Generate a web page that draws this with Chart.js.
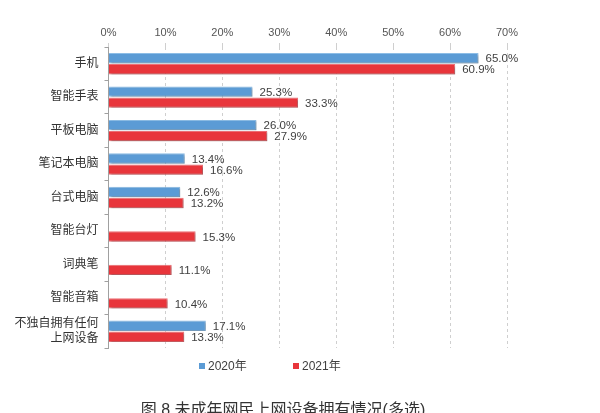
<!DOCTYPE html>
<html><head><meta charset="utf-8">
<script src="https://cdn.jsdelivr.net/npm/chart.js@4"></script>
<style>
html,body{margin:0;padding:0;background:#fff;overflow:hidden;width:600px;height:413px;}
#wrap{position:relative;width:600px;height:425px;}
</style></head>
<body><div id="wrap"><canvas id="c"></canvas></div>
<script>
const categories = ["手机","智能手表","平板电脑","笔记本电脑","台式电脑","智能台灯","词典笔","智能音箱",["不独自拥有任何","上网设备"]];
const values2020 = [65.0, 25.3, 26.0, 13.4, 12.6, null, null, null, 17.1];
const values2021 = [60.9, 33.3, 27.9, 16.6, 13.2, 15.3, 11.1, 10.4, 13.3];
const seriesNames = ["2020年","2021年"];
const xTicks = [0,10,20,30,40,50,60,70];
const chartTitle = '图 8 未成年网民上网设备拥有情况(多选)';
const FONT = '"Liberation Sans","Noto Sans CJK SC",Arial,sans-serif';

const shadowPlugin = {
  id:'shadow',
  beforeDatasetsDraw(chart){const c=chart.ctx;c.save();c.shadowColor='rgba(0,0,0,0.28)';c.shadowOffsetX=1.5;c.shadowOffsetY=1.5;c.shadowBlur=2;},
  afterDatasetsDraw(chart){chart.ctx.restore();}
};
const labelPlugin = {
  id:'vlabels',
  afterDatasetsDraw(chart){
    const c=chart.ctx;c.save();
    c.font='11.5px '+FONT;c.fillStyle='#404040';c.textBaseline='middle';c.textAlign='left';
    chart.data.datasets.forEach((ds,i)=>{
      const meta=chart.getDatasetMeta(i);
      meta.data.forEach((el,j)=>{
        const v=ds.data[j]; if(v==null) return;
        c.fillText(v.toFixed(1)+'%', el.x+7, el.y+1);
      });
    });
    c.restore();
  }
};
const legendTitlePlugin = {
  id:'legendTitle',
  afterDraw(chart){
    const c=chart.ctx;c.save();
    const xs=[199,293];
    chart.data.datasets.forEach((ds,i)=>{
      c.fillStyle=ds.backgroundColor;
      c.fillRect(xs[i],363,6,6);
      c.fillStyle='#404040';c.font='12px '+FONT;c.textBaseline='middle';c.textAlign='left';
      c.fillText(ds.label,xs[i]+9,366.5);
    });
    c.fillStyle='#333';c.font='16px '+FONT;c.textAlign='center';c.textBaseline='middle';
    c.fillText(chartTitle,283,411);
    c.restore();
  }
};

new Chart(document.getElementById('c'),{
  type:'bar',
  data:{labels:categories,datasets:[
    {label:seriesNames[0],data:values2020,backgroundColor:'#5B9BD5',borderColor:'#8DBDE6',borderWidth:1,barPercentage:0.94,categoryPercentage:0.66},
    {label:seriesNames[1],data:values2021,backgroundColor:'#E8353B',borderColor:'#F07076',borderWidth:1,barPercentage:0.94,categoryPercentage:0.66}
  ]},
  options:{
    indexAxis:'y',responsive:true,maintainAspectRatio:false,animation:false,
    layout:{padding:{left:0,right:93,top:0,bottom:77}},
    scales:{
      x:{position:'top',min:0,max:70,
        afterBuildTicks(s){s.ticks=xTicks.map(v=>({value:v}));},
        afterFit(s){s.height=47;},
        border:{display:false,dash:[3,3]},
        grid:{color:'#cfcfcf',tickColor:'#cfcfcf',tickLength:4,drawTicks:true},
        ticks:{callback:v=>v+'%',color:'#555',font:{family:FONT,size:11},padding:3}
      },
      y:{
        afterFit(s){s.width=108.5;},
        border:{display:true,color:'#a0a0a0'},
        grid:{drawOnChartArea:false,tickLength:4,color:'#a0a0a0',offset:true},
        ticks:{autoSkip:false,color:'#333',font:{family:FONT,size:12},padding:6}
      }
    },
    plugins:{legend:{display:false},title:{display:false},tooltip:{enabled:false}}
  },
  plugins:[shadowPlugin,labelPlugin,legendTitlePlugin]
});
</script>
</body></html>
